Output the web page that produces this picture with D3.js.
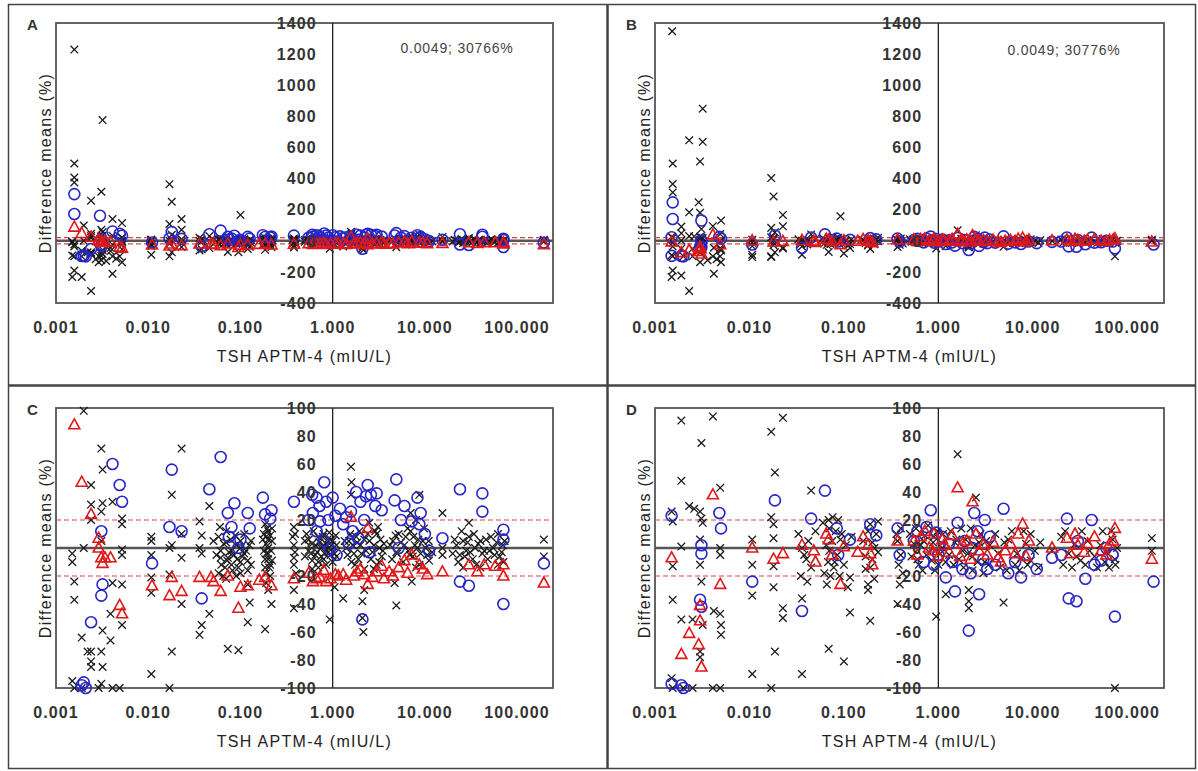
<!DOCTYPE html>
<html>
<head>
<meta charset="utf-8">
<script src="https://cdn.jsdelivr.net/npm/d3@7"></script>
<style>
  html, body { margin: 0; padding: 0; background: #fff; }
  svg { display: block; }
  .tick-label { font-family: "Liberation Sans", Arial, sans-serif; font-size: 16px; font-weight: bold; fill: #333; letter-spacing: 1.1px; }
  .axis-title { font-family: "Liberation Sans", Arial, sans-serif; font-size: 16px; fill: #222; letter-spacing: 1.3px; }
  .panel-letter { font-family: "Liberation Sans", Arial, sans-serif; font-size: 15px; font-weight: bold; fill: #333; }
  .note { font-family: "Liberation Sans", Arial, sans-serif; font-size: 14px; fill: #444; letter-spacing: 0.8px; }
</style>
</head>
<body>
<svg id="chart" width="1198" height="771"></svg>
<script>
// x axis (log) ticks
const xTicks = [0.001, 0.01, 0.1, 1, 10, 100];
const xTickLabels = ["0.001", "0.010", "0.100", "1.000", "10.000", "100.000"];
const xDomain = [0.001, 245];

// y axis ticks: full range (A, B) and zoomed range (C, D)
const yTicksFull = [-400, -200, 0, 200, 400, 600, 800, 1000, 1200, 1400];
const yTicksZoom = [-100, -80, -60, -40, -20, 0, 20, 40, 60, 80, 100];

// reference lines: mean difference and +/-20% limits
const meanLine = 0;
const limitLines = [-20, 20];

const xTitle = "TSH APTM-4 (mIU/L)";
const yTitle = "Difference means (%)";
const notes = { A: "0.0049; 30766%", B: "0.0049; 30776%" };

// ---- comparison 1 (panels A and C): [TSH, difference %]
const crosses1 = [
  [0.00158,1229],[0.0032,776],[0.00158,497],[0.00158,407],[0.00158,375],[0.0031,315],[0.0024,258],
  [0.017,364],[0.018,251],[0.023,140],[0.017,108],[0.1,166],[0.0041,140],[0.0052,114],
  [0.00158,-191],[0.0019,-233],[0.0015,-233],[0.0024,-323],[0.0041,-212],[0.0029,-138],[0.0052,-138],
  [0.0031,-125],[0.0045,-115],[0.0035,-130],[0.0027,-118],
  [0.002,98],[0.0015,-4],[0.0015,-10],[0.00158,-24],[0.00158,-37],[0.0015,-95],[0.00158,-100],[0.0019,-100],
  [0.002,0],[0.0024,45],[0.0019,-64],[0.0022,-74],
  [0.0024,31],[0.0024,20],[0.0024,-74],[0.0024,-81],[0.0024,-85],
  [0.0031,71],[0.0032,56],[0.0032,32],[0.0031,26],[0.0031,5],[0.0032,-59],[0.0031,-74],[0.0032,-85],[0.0031,-97],[0.0029,-100],
  [0.0041,33],[0.0041,-25],[0.0039,-66],[0.0039,-47],[0.0041,-100],
  [0.0052,21],[0.0052,17],[0.0052,-1],[0.0052,-5],[0.0052,-26],[0.0052,-55],[0.0049,-100],
  [0.0108,8],[0.0108,5],[0.0108,-5],[0.0108,-21],[0.0108,-32],[0.0108,-90],
  [0.018,38],[0.018,2],[0.017,0],[0.017,-19],[0.018,-74],[0.017,-100],
  [0.023,71],[0.023,-7],[0.023,-40],[0.023,10],
  [0.046,30],[0.036,19],[0.038,9],[0.036,0],[0.038,-4],[0.038,-55],[0.036,-62],[0.046,-47],
  [0.051,5],[0.061,-2],[0.061,-7],[0.058,-18],[0.073,-72],[0.095,-73],
  [0.073,-7],[0.08,-12],[0.066,3],[0.07,12],[0.075,-3],[0.085,-5],[0.09,2],[0.1,-10],[0.11,-4],
  [0.12,-16],[0.12,-26],[0.12,-53],[0.126,-39],[0.1,0],[0.13,5],[0.068,-14],[0.09,-20],
  [0.055,-5],[0.058,8],[0.062,-12],[0.065,-20],[0.07,4],[0.072,-9],[0.078,6],[0.08,-2],[0.082,-16],
  [0.088,9],[0.092,-8],[0.095,-14],[0.1,5],[0.105,-6],[0.11,10],[0.115,-2],[0.12,-9],[0.125,2],
  [0.13,-12],[0.07,-22],[0.06,15],[0.1,-18],
  [0.185,17],[0.19,8],[0.19,3],[0.2,0],[0.19,-4],[0.2,-8],[0.21,-12],[0.185,-14],[0.22,5],
  [0.185,-58],[0.217,-40],[0.21,-20],[0.2,12],
  [0.175,6],[0.18,-2],[0.18,10],[0.185,-8],[0.19,-18],[0.195,14],[0.2,-4],[0.2,6],[0.205,-14],
  [0.21,9],[0.215,-2],[0.22,-9],[0.22,14],[0.19,-25],[0.2,-30],
  [0.38,15],[0.38,2],[0.38,-7],[0.39,-3],[0.38,-43],[0.38,-30],[0.37,8],[0.38,-12],[0.39,10],[0.4,-18],
  [0.5,5],[0.55,-2],[0.6,3],[0.65,-5],[0.7,8],[0.75,0],[0.8,-8],[0.85,3],[0.9,-3],[0.95,6],
  [1.0,-10],[1.1,2],[0.93,-51],[0.6,-15],[1.05,-28],[0.7,-10],[0.8,10],
  [0.5,-6],[0.52,10],[0.55,6],[0.58,-4],[0.6,-9],[0.62,12],[0.65,2],[0.68,-3],[0.7,-14],[0.72,4],
  [0.75,-6],[0.78,8],[0.8,2],[0.82,-4],[0.85,-12],[0.88,6],[0.9,0],[0.92,11],[0.95,-5],[0.98,2],
  [1.0,5],[1.05,-4],[1.08,9],[1.1,-6],
  [1.58,58],[1.6,47],[1.58,38],[1.3,-36],[1.4,0],[1.5,5],[1.7,-4],[1.8,8],[1.9,-8],[2.0,2],
  [2.1,-38],[2.1,-50],[2.15,-60],[2.2,-30],[1.6,-10],
  [1.35,5],[1.45,-5],[1.55,10],[1.65,2],[1.75,-12],[1.85,4],[1.95,12],[2.05,-4],[2.2,6],[2.3,-2],
  [2.4,10],[2.6,-8],[2.8,2],[2.9,12],[3.2,-10],[3.3,6],[3.5,-2],[2.5,18],[2.2,-15],
  [2.5,5],[2.7,-3],[3.0,10],[3.2,0],[3.4,-6],[3.0,-12],[3.6,3],[2.8,-15],[3.1,15],
  [4.5,5],[4.9,-3],[5.2,10],[4.9,-41],[4.7,-25],[6.0,2],[6.9,-5],[7.5,8],[8.3,0],[8.7,38],
  [8.7,-12],[9.5,5],[10.6,-5],[7.2,-24],[11.1,-9],[6.5,14],
  [4.2,2],[4.4,-8],[4.8,9],[5.0,-4],[5.5,4],[5.8,-10],[6.2,8],[6.6,-2],[7.0,12],[7.4,-6],[7.8,2],
  [8.0,-14],[8.5,6],[9.0,-4],[9.8,14],[10.2,0],[11,5],[12,-3],[7,25],[8,20],
  [15.5,25],[15.5,0],[15.5,-5],
  [20,-4],[21,6],[23,-10],[25,12],[27,-6],[29,4],[31,-3],[34,10],[36,-12],[40,5],[44,-2],[48,-8],
  [52,8],[57,-5],[62,10],[68,-3],[73,5],[26,-14],[40,-14],[62,-12],
  [22,2],[24,-5],[26,5],[28,-2],[30,8],[33,-8],[35,0],[38,3],[42,-4],[46,6],[50,-2],[55,0],
  [60,4],[65,-6],[70,2],[71,-10],[30,18],
  [195,6],[195,-6]
];
const circles1 = [
  [0.00158,300],[0.00158,172],[0.003,161],
  [0.0019,-98],[0.002,-96],[0.0021,-100],
  [0.0024,-53],[0.0031,12],[0.0032,-26],[0.0031,-34],
  [0.0041,60],[0.0049,45],[0.0052,33],
  [0.011,-11],[0.018,56],[0.017,15],[0.023,12],
  [0.046,42],[0.038,-36],[0.061,65],
  [0.073,25],[0.086,32],[0.075,8],[0.1,6],[0.095,0],[0.08,15],
  [0.12,25],[0.126,14],
  [0.175,36],[0.217,27],[0.185,24],[0.21,21],
  [0.38,33],
  [0.81,47],[0.67,36],[0.85,33],[0.61,25],[0.73,19],[0.67,12],[0.93,-1],
  [0.55,20],[0.6,38],[0.72,30],[0.9,20],[1.0,36],[1.2,28],[1.4,22],[1.8,40],[2.2,20],[2.6,38],[2.9,30],
  [0.8,5],[1.1,-5],[1.5,3],[2.5,-3],
  [1.07,23],[1.3,17],[1.65,12],[1.58,26],
  [2.4,45],[2.0,33],[2.3,37],[2.1,-51],[1.9,7],
  [3.0,39],[3.4,27],[4.9,49],[4.7,34],[5.2,0],[5.5,20],[6,30],[9,25],[10,10],
  [8.3,36],[7.2,19],[8.7,17],[11.1,-2],
  [15.5,7],[24,42],[24,-24],[30,-27],
  [42,39],[42,26],[71,13],[71,6],[71,-40],
  [195,-11]
];
const triangles1 = [
  [0.00158,88],[0.0019,47],[0.0024,24],
  [0.0029,7],[0.0029,0],[0.0031,-7],[0.0032,-11],[0.0034,-7],
  [0.0039,-7],[0.0049,-41],[0.0052,-47],
  [0.011,-27],[0.018,-21],[0.017,-34],[0.023,-31],
  [0.036,-21],[0.048,-21],[0.051,-24],[0.061,-31],[0.073,-20],[0.095,-43],[0.12,-27],[0.1,-28],[0.16,-23],
  [0.185,-21],[0.217,-27],[0.38,-22],
  [0.55,-18],[0.61,-24],[0.67,-22],[0.73,-21],[0.8,-16],[0.85,-24],[0.95,-22],[1.07,-19],[1.15,-20],
  [1.3,-19],[1.4,-23],[1.58,22],[1.7,-20],[1.85,-17],[2.0,-15],[2.2,-19],[2.4,-26],[2.4,14],
  [2.7,-21],[3.0,-17],[3.4,-13],[3.6,-22],[4.1,-17],[4.5,-20],[5.2,-14],[6.0,-9],[6.5,-18],
  [7.2,-5],[8.7,-12],[9.5,-15],[10.6,-19],
  [15.5,-17],[30,-12],[37,-17],[44,-12],[58,-13],[71,-12],[71,-20],
  [195,-25]
];

// ---- comparison 2 (panels B and D): [TSH, difference %]
const crosses2 = [
  [0.00152,1347],[0.0032,849],[0.0023,646],[0.0032,636],[0.003,510],[0.00154,497],[0.00154,365],
  [0.00154,311],[0.0029,247],[0.0023,183],[0.003,180],[0.017,403],[0.018,285],[0.0226,166],
  [0.092,157],[0.005,130],
  [0.00154,-191],[0.0019,-223],[0.0015,-233],[0.0023,-323],[0.0042,-212],[0.003,-138],[0.005,-138],
  [0.0107,-105],[0.017,-105],[0.0036,-125],[0.0045,-118],
  [0.0019,91],[0.0041,94],[0.0031,75],[0.017,83],[0.0226,93],[0.0186,54],[0.0019,48],[0.0015,26],[0.00154,19],
  [0.0023,30],[0.0026,28],[0.003,26],[0.0031,21],[0.0032,18],[0.0049,43],
  [0.0019,1],[0.003,6],[0.0049,0],[0.0049,-5],[0.00154,-13],[0.00154,-37],[0.0031,-24],[0.003,-12],
  [0.0019,-51],[0.0025,-51],[0.0032,-55],[0.0042,-45],[0.0049,-47],[0.005,-55],[0.005,-62],[0.003,-74],[0.003,-78],
  [0.0015,-93],[0.00154,-100],[0.002,-100],[0.0025,-100],[0.0041,-100],[0.0049,-100],
  [0.0107,6],[0.0107,-12],[0.0107,-34],[0.0107,-90],
  [0.017,22],[0.018,17],[0.018,7],[0.018,-13],[0.018,-28],[0.0226,-43],[0.0226,-50],[0.0186,-74],[0.017,-100],
  [0.036,-90],[0.045,41],[0.041,-24],[0.036,-36],[0.036,0],[0.04,-8],
  [0.033,10],[0.035,-20],[0.038,-5],[0.042,5],[0.045,-14],[0.05,12],
  [0.069,20],[0.076,22],[0.066,-26],[0.069,-72],[0.1,-81],[0.087,20],[0.092,6],[0.08,-10],[0.07,-2],
  [0.06,18],[0.062,-18],[0.065,2],[0.068,-10],[0.07,14],[0.072,-20],[0.075,5],[0.078,-14],[0.082,12],
  [0.085,-5],[0.09,-20],[0.095,10],[0.1,-12],[0.105,2],[0.11,-28],[0.12,8],
  [0.116,-21],[0.116,-46],[0.18,-26],[0.19,-52],[0.19,17],[0.23,19],[0.2,-8],[0.21,0],[0.17,-15],
  [0.16,5],[0.17,-6],[0.18,12],[0.19,-14],[0.2,4],[0.21,-22],[0.22,10],[0.23,-3],[0.18,-30],
  [0.37,-40],[0.39,-26],[0.37,5],[0.4,-5],[0.36,10],[0.38,-12],[0.4,14],[0.42,-18],
  [0.55,3],[0.6,-8],[0.7,5],[0.8,-3],[0.9,8],[1.0,-12],[1.1,0],[1.3,-5],[1.5,4],[1.8,-2],
  [0.5,10],[0.52,-6],[0.58,14],[0.62,-12],[0.65,2],[0.68,-16],[0.72,9],[0.75,-5],[0.78,16],[0.85,-9],
  [0.88,4],[0.92,-16],[0.98,12],[1.05,-4],[1.12,10],[1.2,-10],
  [0.95,-49],[1.2,-33],[1.6,67],[2.1,-38],[2.1,-43],[2.5,36],[2.1,-30],
  [1.35,12],[1.45,-12],[1.55,6],[1.65,-8],[1.75,14],[1.85,-14],[1.95,6],[2.05,-4],[2.2,14],[2.3,-16],
  [2.45,2],[2.6,-10],[2.8,10],[3.0,-18],[3.2,5],[3.4,-12],
  [2.3,-6],[2.7,4],[3.1,-10],[3.5,2],[4.3,-4],[5.5,6],[6.5,-12],[7.5,-7],[8.5,3],[9.5,-9],
  [4.0,10],[4.5,-14],[5.0,4],[5.3,-16],[6.0,12],[6.8,-4],[7.2,-16],[8,12],[8.8,-12],[9.5,10],
  [10.5,-2],[11.5,-14],[12,4],
  [4.9,-39],[16,-2],[20,8],[24,-4],[28,3],[32,-9],[38,5],[45,-6],[52,2],[60,-3],[70,6],[74,-8],
  [21,-12],[22,12],[26,-14],[29,-6],[33,12],[36,-12],[40,-2],[48,-14],[55,12],[58,-10],[64,-14],
  [68,12],[75,-12],[78,0],
  [74,-100],[182,7],[182,-2]
];
const circles2 = [
  [0.00154,247],[0.00154,140],[0.0031,130],
  [0.0015,-97],[0.0019,-98],[0.002,-100],
  [0.0015,23],[0.0031,-4],[0.0031,2],[0.003,-37],[0.0031,-42],
  [0.0048,25],[0.005,14],[0.0107,-24],[0.0186,34],
  [0.045,21],[0.063,41],[0.036,-45],[0.084,14],[0.087,-5],[0.116,6],
  [0.19,17],[0.22,9],[0.37,14],[0.39,-5],
  [0.55,5],[0.7,-10],[0.83,27],[0.95,11],[1.0,-5],[1.3,3],[1.2,-21],[1.5,-31],[1.8,-15],[2.1,-59],[2.7,-33],
  [0.6,12],[0.75,15],[0.9,-12],[1.1,8],[1.4,-10],[1.6,18],[1.9,5],[2.2,-18],[2.6,12],[3.3,-15],
  [2.3,0],[2.4,25],[3.0,-8],[3.1,20],[4.0,-12],[4.9,28],[3.5,8],[5.5,-18],[6.5,-10],
  [7.5,-21],[9,-5],[11,-15],[16,-7],
  [20,-5],[23,21],[24,-36],[29,-38],[30,5],[36,-22],[42,20],[45,-12],[53,-9],[60,0],[70,-5],
  [74,-49],[190,-24]
];
const triangles2 = [
  [0.0015,-7],[0.0041,38],[0.0049,-26],[0.003,-41],[0.003,-52],[0.0029,-69],[0.0031,-85],[0.0019,-76],[0.0023,-61],
  [0.0107,0],[0.018,-8],[0.0226,-4],[0.036,2],[0.048,-2],[0.05,-10],[0.065,10],[0.069,6],[0.075,-5],
  [0.092,-26],[0.1,1],[0.14,-3],[0.16,8],[0.19,-4],[0.18,2],[0.2,-12],[0.37,5],
  [0.55,5],[0.6,-5],[0.65,8],[0.72,12],[0.8,0],[0.87,-2],[0.9,10],[1.0,-6],[1.1,6],[1.15,2],[1.3,-3],
  [1.4,9],[1.6,43],[1.7,-6],[1.8,3],[2.0,5],[2.2,-8],[2.3,33],[2.5,10],[2.7,-2],[3.0,2],[3.3,-5],
  [3.8,4],[4.3,-7],[4.6,-10],[5.1,-2],[5.8,3],[6.5,-4],[7,10],[7.8,17],[8.5,-6],[9.1,5],
  [16,0],[23,7],[25,-4],[28,10],[30,2],[35,-3],[38,3],[45,8],[53,-2],[60,-5],[65,3],[71,5],[74,14],
  [182,-8]
];

// panel layout
const panels = [
  { letter: "A", c: crosses1, o: circles1, t: triangles1, yTicks: yTicksFull, note: notes.A,
    x0: 56, x1: 553, y0: 23, y1: 303, noteX: 457, noteY: 48 },
  { letter: "B", c: crosses2, o: circles2, t: triangles2, yTicks: yTicksFull, note: notes.B,
    x0: 655, x1: 1164, y0: 23, y1: 303, noteX: 1064, noteY: 50 },
  { letter: "C", c: crosses1, o: circles1, t: triangles1, yTicks: yTicksZoom, note: null,
    x0: 56, x1: 553, y0: 408, y1: 688 },
  { letter: "D", c: crosses2, o: circles2, t: triangles2, yTicks: yTicksZoom, note: null,
    x0: 655, x1: 1164, y0: 408, y1: 688 }
];

const svg = d3.select("#chart");

// outer frame and cell dividers
const frame = svg.append("g").attr("fill", "none").attr("stroke", "#444");
frame.append("rect").attr("x", 8.5).attr("y", 4.5).attr("width", 1187).attr("height", 764).attr("stroke-width", 1.5);
frame.append("line").attr("x1", 607.5).attr("x2", 607.5).attr("y1", 4).attr("y2", 769).attr("stroke-width", 2.5);
frame.append("line").attr("x1", 8).attr("x2", 1196).attr("y1", 385.5).attr("y2", 385.5).attr("stroke-width", 2.5);

const crossPath = "M-3.8,-3.8L3.8,3.8M-3.8,3.8L3.8,-3.8";
const triPath = "M0,-6L5.5,4L-5.5,4Z";

panels.forEach(p => {
  const g = svg.append("g");
  const yd = d3.extent(p.yTicks);
  const x = d3.scaleLog().domain(xDomain).range([p.x0, p.x1]);
  const y = d3.scaleLinear().domain(yd).range([p.y1, p.y0]);
  const inRange = d => d[1] >= yd[0] && d[1] <= yd[1];

  // plot border
  g.append("rect")
    .attr("x", p.x0).attr("y", p.y0)
    .attr("width", p.x1 - p.x0).attr("height", p.y1 - p.y0)
    .attr("fill", "none").attr("stroke", "#555").attr("stroke-width", 1.8);

  // vertical axis at x = 1
  g.append("line")
    .attr("x1", x(1)).attr("x2", x(1)).attr("y1", p.y0).attr("y2", p.y1)
    .attr("stroke", "#222").attr("stroke-width", 1.3);

  // mean line and limits
  g.append("line")
    .attr("x1", p.x0).attr("x2", p.x1).attr("y1", y(meanLine)).attr("y2", y(meanLine))
    .attr("stroke", "#555").attr("stroke-width", 2.4);
  g.selectAll(".limit").data(limitLines).join("line")
    .attr("x1", p.x0).attr("x2", p.x1).attr("y1", d => y(d)).attr("y2", d => y(d))
    .attr("stroke", "#d44").attr("stroke-width", 1.2).attr("stroke-dasharray", "5,3");

  // markers
  g.append("g").selectAll("path").data(p.c.filter(inRange)).join("path")
    .attr("d", crossPath)
    .attr("transform", d => `translate(${x(d[0])},${y(d[1])})`)
    .attr("fill", "none").attr("stroke", "#1a1a1a").attr("stroke-width", 1.3);
  g.append("g").selectAll("circle").data(p.o.filter(inRange)).join("circle")
    .attr("cx", d => x(d[0])).attr("cy", d => y(d[1])).attr("r", 5.5)
    .attr("fill", "none").attr("stroke", "#2626c8").attr("stroke-width", 1.6);
  g.append("g").selectAll("path").data(p.t.filter(inRange)).join("path")
    .attr("d", triPath)
    .attr("transform", d => `translate(${x(d[0])},${y(d[1])})`)
    .attr("fill", "none").attr("stroke", "#e01818").attr("stroke-width", 1.6);

  // y tick labels beside the vertical axis
  g.selectAll(".ylab").data(p.yTicks).join("text")
    .attr("class", "tick-label")
    .attr("x", x(1) - 16).attr("y", d => y(d))
    .attr("dy", "0.36em").attr("text-anchor", "end")
    .text(d => d);

  // x tick labels
  g.selectAll(".xlab").data(xTicks).join("text")
    .attr("class", "tick-label")
    .attr("x", d => x(d)).attr("y", p.y1 + 24)
    .attr("dy", "0.36em").attr("text-anchor", "middle")
    .text((d, i) => xTickLabels[i]);

  // axis titles
  g.append("text").attr("class", "axis-title")
    .attr("x", (p.x0 + p.x1) / 2).attr("y", p.y1 + 53)
    .attr("dy", "0.36em").attr("text-anchor", "middle")
    .text(xTitle);
  g.append("text").attr("class", "axis-title")
    .attr("transform", `translate(${p.x0 - 11},${(p.y0 + p.y1) / 2}) rotate(-90)`)
    .attr("dy", "0.36em").attr("text-anchor", "middle")
    .text(yTitle);

  // panel letter
  g.append("text").attr("class", "panel-letter")
    .attr("x", p.x0 - 29).attr("y", p.y0 + 2)
    .attr("dy", "0.36em")
    .text(p.letter);

  if (p.note) {
    g.append("text").attr("class", "note")
      .attr("x", p.noteX).attr("y", p.noteY)
      .attr("dy", "0.36em").attr("text-anchor", "middle")
      .text(p.note);
  }
});
</script>
</body>
</html>
